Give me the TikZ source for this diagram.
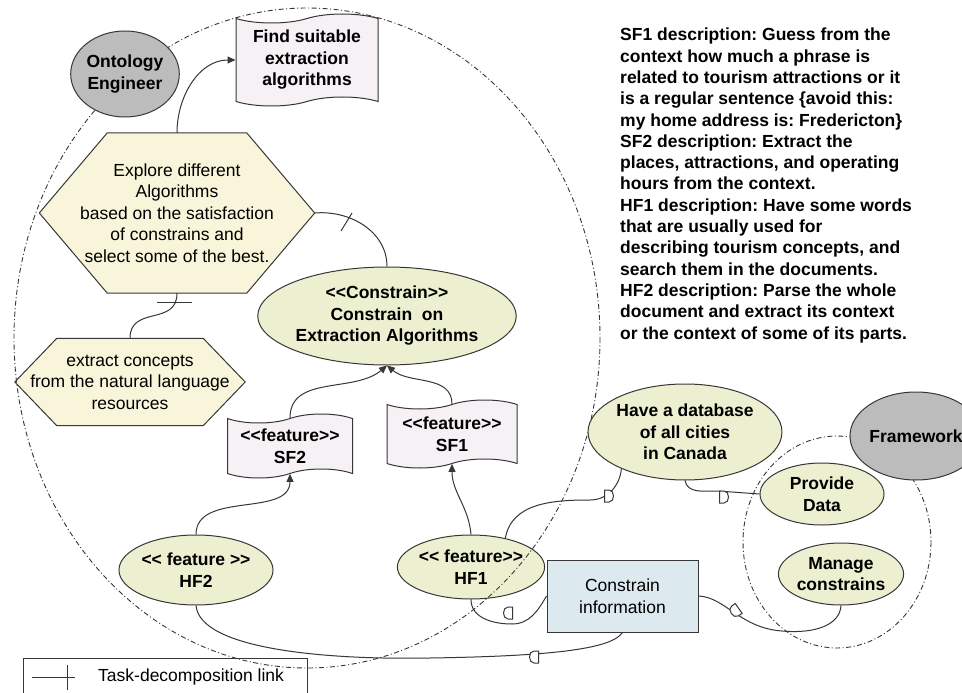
\documentclass[tikz,border=0pt]{standalone}
\usepackage{fontspec}
\setmainfont{Liberation Sans}[Ligatures=TeXOff]
\frenchspacing
\usetikzlibrary{shapes.geometric,shapes.symbols,arrows.meta,calc,backgrounds}

\definecolor{linec}{RGB}{55,55,55}
\definecolor{actorfill}{RGB}{188,188,188}
\definecolor{goalfill}{RGB}{236,240,208}
\definecolor{taskfill}{RGB}{249,245,218}
\definecolor{docfill}{RGB}{245,241,245}
\definecolor{resfill}{RGB}{220,234,240}

% hexagonal task outline drawn behind a named node; #2 is the inset of the top edge
\newcommand\hexoutline[2]{%
  \begin{scope}[on background layer]
    \draw[outline, fill=taskfill] (#1.west) -- ($(#1.north west)+(#2,0)$)
      -- ($(#1.north east)+(-#2,0)$) -- (#1.east)
      -- ($(#1.south east)+(-#2,0)$) -- ($(#1.south west)+(#2,0)$) -- cycle;
  \end{scope}}

\begin{document}
\begin{tikzpicture}[x=1pt,y=-1pt,
  bfont/.style={font=\fontsize{17.5}{21.5}\selectfont\bfseries},
  rfont/.style={font=\fontsize{17.5}{21.5}\selectfont},
  outline/.style={draw=linec, line width=1pt},
  actor/.style={ellipse, outline, fill=actorfill, inner sep=0pt, align=center, bfont},
  goal/.style={ellipse, outline, fill=goalfill, inner sep=0pt, align=center, bfont},
  doc/.style={tape, outline, fill=docfill, tape bend top=in and out,
    tape bend bottom=in and out, tape bend height=9pt, inner sep=0pt, align=center, bfont},
  taskbox/.style={rectangle, inner sep=0pt, align=center, rfont},
  res/.style={rectangle, outline, fill=resfill, inner sep=0pt, align=center, rfont},
  conn/.style={draw=linec, line width=1pt},
  arr/.style={conn, -{Triangle[length=8pt,width=7pt]}},
  boundary/.style={draw=linec, line width=0.9pt, dash pattern=on 5pt off 2.5pt on 1pt off 2.5pt},
  dsym/.pic={\draw[conn, fill=white] (-4.5,-6) -- (-4.5,6) -- (0,6)
    .. controls (6,6) and (6,-6) .. (0,-6) -- cycle;}
]
\begin{scope}[on background layer]
  \fill[white] (0,0) rectangle (962,693);
\end{scope}
\useasboundingbox (0,0) rectangle (962,693);

% Framework boundary (behind its nodes)
\draw[boundary] (837,542) ellipse [x radius=94, y radius=106];

% elements inside the Ontology Engineer boundary
\node[doc, minimum width=142pt, minimum height=92pt] (find) at (307,60)
  {Find suitable\\extraction\\algorithms};
\node[taskbox, minimum width=275pt, minimum height=160pt] (explore) at (177,213)
  {Explore different\\Algorithms\\based on the satisfaction\\of constrains and\\select some of the best.};
\hexoutline{explore}{68}
\node[taskbox, minimum width=230pt, minimum height=87pt] (extract) at (130,382)
  {extract concepts\\from the natural language\\resources};
\hexoutline{extract}{42}
\node[goal, minimum width=232pt, minimum height=98pt] (cons) at (387,316)
  {<<Constrain>>\\Constrain\ \ on\\Extraction Algorithms};
\node[doc, minimum width=125pt, minimum height=64pt] (sf2) at (290,446) {<<feature>>\\SF2};
\node[doc, minimum width=130pt, minimum height=68pt] (sf1) at (452,434) {<<feature>>\\SF1};
\node[goal, minimum width=116pt, minimum height=70pt] (hf2) at (196,570) {<< feature >>\\HF2};
\node[goal, minimum width=117pt, minimum height=64pt] (hf1) at (471,567) {<< feature>>\\HF1};

% Ontology Engineer boundary
\draw[boundary] (307,338) ellipse [x radius=293, y radius=330];
\node[actor, minimum width=96pt, minimum height=86pt] (oe) at (125,74) {Ontology\\Engineer};

% other elements
\node[goal, minimum width=170pt, minimum height=96pt] (db) at (685,432)
  {Have a database\\of all cities\\in Canada};
\node[res, minimum width=151pt, minimum height=72pt] (ci) at (622.5,596) {Constrain\\information};
\node[actor, minimum width=98pt, minimum height=88pt] (fw) at (916,436) {Framework};
\node[goal, minimum width=124pt, minimum height=62pt] (prov) at (822,494) {Provide\\Data};
\node[goal, minimum width=124pt, minimum height=62pt] (mc) at (841,574) {Manage\\constrains};

% means-end and decomposition links
\draw[arr] (explore.north) to[out=90,in=180] (find.west);
\draw[conn] (explore.south) to[out=-90,in=90,looseness=1.3] (extract.north);
\draw[conn] (explore.east) to[out=5,in=90] (cons.north);
% decomposition ticks across those two links
\draw[conn] (157,302) -- (192,302);
\draw[conn] (341,231) -- (352,213);
\draw[arr] (sf2.north) to[out=90,in=-140] (cons.south);
\draw[arr] (sf1.north) to[out=90,in=-40] (cons.south);
\draw[arr] (hf2.north) to[out=90,in=-90] (sf2.south);
\draw[arr] (hf1.north) to[out=95,in=-90] (sf1.south);

% dependency links
\coordinate (c1) at (590,500);
\coordinate (c2) at (718,491);
\coordinate (c3) at (512,624);
\coordinate (c5) at (782,631);
\coordinate (c6) at (430,658);
\draw[conn] (hf1.40) to[out=80,in=180] (c1) to[out=0,in=-95] (db.210);
\draw[conn] (db.south) to[out=-80,in=180] (c2) -- (prov.west);
\draw[conn] (hf1.south) to[out=-90,in=180] (c3) to[out=0,in=-120] (ci.west);
\draw[conn] (ci.east) .. controls (725,597) and (740,628) .. (c5)
  .. controls (815,634) and (840,625) .. (mc.south);
\draw[conn] (hf2.south) .. controls (200,650) and (330,660) .. (c6)
  .. controls (560,656) and (612,648) .. (ci.south);

% dependency markers
\pic at (609,496) {dsym};
\pic at (724,497) {dsym};
\pic[xscale=-1] at (508,613) {dsym};
\pic[xscale=-1] at (534,657) {dsym};
\pic[rotate=35,xscale=-1] at (735,611) {dsym};

% feature descriptions
\node[bfont, font=\fontsize{17.5}{21.3}\selectfont\bfseries, align=left, anchor=north west, inner sep=0pt] (desc) at (620,28)
  {SF1 description: Guess from the\\
   context how much a phrase is\\
   related to tourism attractions or it\\
   is a regular sentence \{avoid this:\\
   my home address is: Fredericton\}\\
   SF2 description: Extract the\\
   places, attractions, and operating\\
   hours from the context.\\
   HF1 description: Have some words\\
   that are usually used for\\
   describing tourism concepts, and\\
   search them in the documents.\\
   HF2 description: Parse the whole\\
   document and extract its context\\
   or the context of some of its parts.};

% legend
\draw[conn] (23,694) -- (23,658) -- (307,658) -- (307,694);
\draw[conn] (32,677) -- (75,677);
\draw[conn] (67,665) -- (67,690);
\node[rfont, anchor=west, inner sep=0pt] (legtext) at (98,677) {Task-decomposition link};
\end{tikzpicture}
\end{document}
